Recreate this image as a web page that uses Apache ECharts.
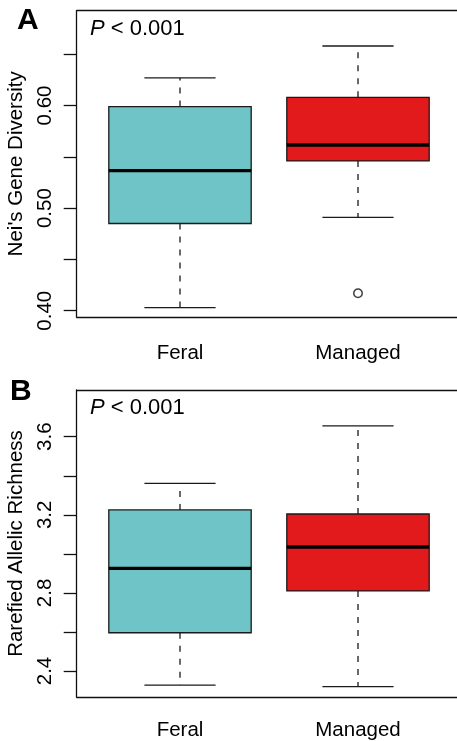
<!DOCTYPE html>
<html><head><meta charset="utf-8">
<script src="https://cdn.jsdelivr.net/npm/echarts@6/dist/echarts.min.js"></script>
<style>html,body{margin:0;padding:0;background:#fff}#c{width:457px;height:741px}</style>
</head><body><div id="c"></div>
<script>
// ---------- data ----------
const categories = ['Feral', 'Managed'];
// boxplot stats: [min, Q1, median, Q3, max]
const neiFeral   = [0.403, 0.485, 0.5365, 0.599, 0.627];
const neiManaged = [0.491, 0.546, 0.5615, 0.608, 0.658];
const neiOutliers = [['Managed', 0.417]];
const arFeral    = [2.328, 2.596, 2.926, 3.225, 3.361];
const arManaged  = [2.320, 2.810, 3.035, 3.204, 3.655];
const neiTicks = [0.40, 0.45, 0.50, 0.55, 0.60, 0.65];
const neiTickLabels = [0.40, 0.50, 0.60];
const arTicks = [2.4, 2.6, 2.8, 3.0, 3.2, 3.4, 3.6];
const arTickLabels = [2.4, 2.8, 3.2, 3.6];
const neiRange = [0.3939, 0.6924];
const arRange = [2.2668, 3.8392];
const panelLetters = ['A', 'B'];
const pText = '< 0.001';
const yNames = ["Nei's Gene Diversity", 'Rarefied Allelic Richness'];

// ---------- style ----------
const FONT = 'Liberation Sans, Arial, Helvetica, sans-serif';
const FILLS = ['#6ec4c7', '#e31a1c'];
const FS = 20.5;
const FRAME = { color: '#111', width: 1.3 };

function renderBox(params, api) {
  const i = api.value(0);
  const mn = api.value(1), q1 = api.value(2), md = api.value(3), q3 = api.value(4), mx = api.value(5);
  const cx = api.coord([i, md])[0];
  const y = v => api.coord([i, v])[1];
  const bw = api.size([1, 0])[0];
  const hb = bw * 0.4, hc = bw * 0.2;
  const dash = { stroke: '#1a1a1a', lineWidth: 1.3, lineDash: [6, 7] };
  const solid = { stroke: '#1a1a1a', lineWidth: 1.3 };
  return {
    type: 'group',
    children: [
      { type: 'line', shape: { x1: cx, y1: y(q3), x2: cx, y2: y(mx) }, style: dash },
      { type: 'line', shape: { x1: cx, y1: y(q1), x2: cx, y2: y(mn) }, style: dash },
      { type: 'line', shape: { x1: cx - hc, y1: y(mx), x2: cx + hc, y2: y(mx) }, style: solid },
      { type: 'line', shape: { x1: cx - hc, y1: y(mn), x2: cx + hc, y2: y(mn) }, style: solid },
      { type: 'rect', shape: { x: cx - hb, y: y(q3), width: 2 * hb, height: y(q1) - y(q3) },
        style: { fill: FILLS[i], stroke: '#1a1a1a', lineWidth: 1.3 } },
      { type: 'line', shape: { x1: cx - hb, y1: y(md), x2: cx + hb, y2: y(md) },
        style: { stroke: '#000', lineWidth: 3.3 } }
    ]
  };
}

const panels = [
  { top: 10.7, height: 306.3, range: neiRange, ticks: neiTicks, labels: neiTickLabels, dec: 2, xMargin: 25.5,
    feral: neiFeral, managed: neiManaged, outliers: neiOutliers, name: yNames[0] },
  { top: 390, height: 307, range: arRange, ticks: arTicks, labels: arTickLabels, dec: 1, xMargin: 23,
    feral: arFeral, managed: arManaged, outliers: [], name: yNames[1] }
];

const grid = [], xAxis = [], yAxis = [], series = [], title = [];
const hiddenBits = { axisTick: { show: false }, axisLabel: { show: false }, splitLine: { show: false } };
panels.forEach((p, k) => {
  const fi = grid.length;
  // frame grid (plot box, drawn with axis lines)
  grid.push({ left: 76.7, top: p.top, width: 384.5, height: p.height, outerBoundsMode: 'none', containLabel: false });
  // data grid
  grid.push({ left: 91, top: p.top, width: 356, height: p.height, outerBoundsMode: 'none', containLabel: false });
  const xi = xAxis.length, yi = yAxis.length;
  xAxis.push(Object.assign({ gridIndex: fi, type: 'value', position: 'bottom', min: 0, max: 1,
    axisLine: { show: true, onZero: false, lineStyle: FRAME } }, hiddenBits));
  xAxis.push(Object.assign({ gridIndex: fi, type: 'value', position: 'top', min: 0, max: 1,
    axisLine: { show: true, onZero: false, lineStyle: FRAME } }, hiddenBits));
  yAxis.push(Object.assign({ gridIndex: fi, type: 'value', position: 'left', min: 0, max: 1,
    axisLine: { show: true, onZero: false, lineStyle: FRAME } }, hiddenBits));
  xAxis.push({
    gridIndex: fi + 1, type: 'category', data: categories,
    axisLine: { show: false },
    axisTick: { alignWithLabel: true, length: 12, lineStyle: FRAME },
    axisLabel: { margin: p.xMargin, fontSize: FS, fontFamily: FONT, color: '#000' },
    splitLine: { show: false }
  });
  yAxis.push({
    gridIndex: fi + 1, type: 'value', min: p.range[0], max: p.range[1], offset: 14.3,
    axisLine: { show: false },
    axisTick: { show: true, length: 13, customValues: p.ticks, lineStyle: FRAME },
    axisLabel: { customValues: p.labels, rotate: 90, margin: 21, fontSize: FS, fontFamily: FONT, color: '#000',
      formatter: v => Number(v).toFixed(p.dec) },
    splitLine: { show: false },
    name: p.name, nameLocation: 'middle', nameGap: 46,
    nameTextStyle: { fontSize: FS, fontFamily: FONT, color: '#000' }
  });
  const dx = xi + 2, dy = yi + 1;
  series.push({
    type: 'custom', xAxisIndex: dx, yAxisIndex: dy,
    renderItem: renderBox,
    encode: { x: 0, y: [1, 2, 3, 4, 5] },
    data: [[0, ...p.feral], [1, ...p.managed]]
  });
  if (p.outliers.length) {
    series.push({
      type: 'scatter', xAxisIndex: dx, yAxisIndex: dy,
      symbol: 'circle', symbolSize: 8.5,
      itemStyle: { color: '#fff', borderColor: '#111', borderWidth: 1.5 },
      data: p.outliers
    });
  }
  title.push({
    text: panelLetters[k], left: k === 0 ? 17 : 10, top: k === 0 ? 6 : 377, padding: 0,
    textStyle: { fontSize: 30, fontWeight: 'bold', fontFamily: FONT, color: '#000', lineHeight: 30 }
  });
  title.push({
    text: '{i|P} ' + pText, left: 90, top: p.top + 7, padding: 0,
    textStyle: { fontSize: 22, fontWeight: 'normal', fontFamily: FONT, color: '#000', lineHeight: 22,
      rich: { i: { fontStyle: 'italic', fontWeight: 'normal', fontSize: 22, fontFamily: FONT, color: '#000', lineHeight: 22 } } }
  });
});

const chart = echarts.init(document.getElementById('c'), null, { renderer: 'canvas' });
chart.setOption({ animation: false, backgroundColor: '#fff', title, grid, xAxis, yAxis, series });
</script></body></html>
